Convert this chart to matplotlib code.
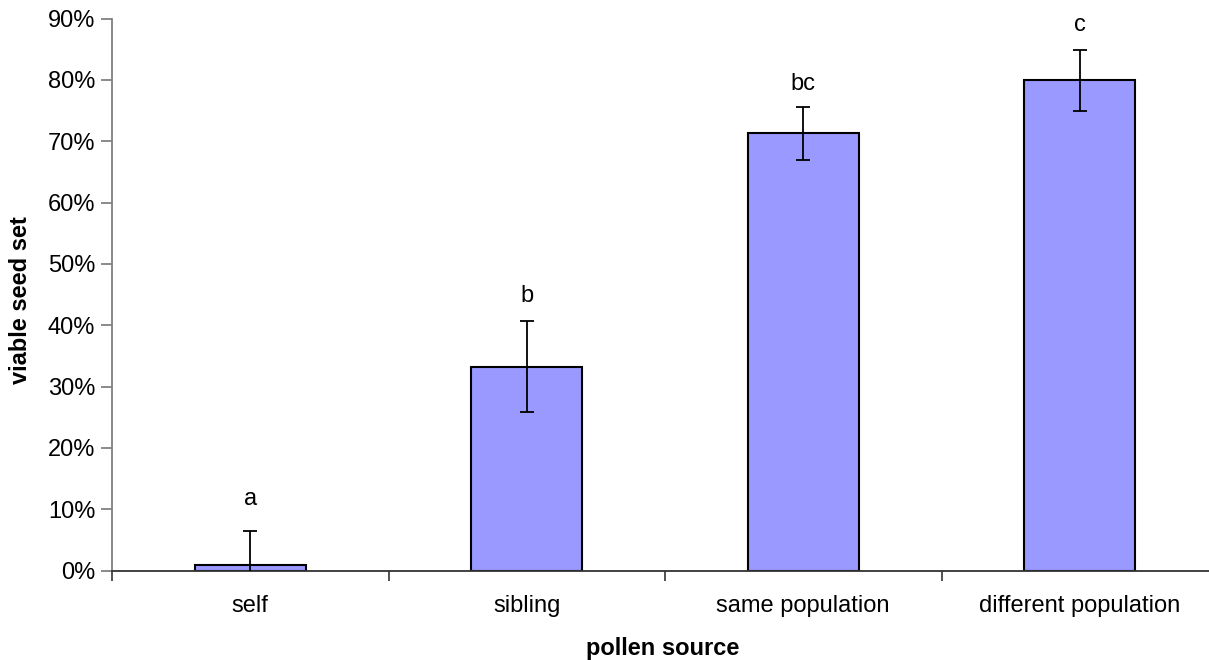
import matplotlib
matplotlib.use("Agg")
import matplotlib.pyplot as plt
from matplotlib.ticker import FuncFormatter, FixedLocator

plt.rcParams['font.family'] = ['Liberation Sans', 'DejaVu Sans']

categories = ["self", "sibling", "same population", "different population"]
values = [0.86, 33.2, 71.3, 79.9]
errors = [5.6, 7.4, 4.3, 5.0]
letters = ["a", "b", "bc", "c"]
letter_y = [11.7, 44.7, 79.4, 88.9]
yticks = [0, 10, 20, 30, 40, 50, 60, 70, 80, 90]

fig = plt.figure(figsize=(12.09, 6.60), dpi=100)
ax = fig.add_axes([112 / 1209, 89.5 / 660, (1218 - 112) / 1209, (570.5 - 18.5) / 660])

x = list(range(len(categories)))
ax.bar(x, values, width=0.4, color="#9999FF", edgecolor="black", linewidth=1.5, zorder=2)
ax.errorbar(x, values, yerr=errors, fmt="none", ecolor="black", elinewidth=1.3,
            capsize=5, capthick=1.3, zorder=3)
for xi, lt, ly in zip(x, letters, letter_y):
    ax.text(xi, ly, lt, ha="center", va="center", fontsize=17, color="black")

ax.set_xlim(-0.5, 3.5)
ax.set_ylim(0, 90)
ax.set_yticks(yticks)
ax.yaxis.set_major_formatter(FuncFormatter(lambda v, p: f"{v:.0f}%"))
ax.set_xticks(x)
ax.set_xticklabels(categories)
ax.xaxis.set_minor_locator(FixedLocator([-0.5, 0.5, 1.5, 2.5, 3.5]))
ax.tick_params(axis="x", which="major", length=0, labelsize=17, pad=17.5)
ax.tick_params(axis="x", which="minor", length=7, width=1.2, direction="out", color="#333333")
ax.tick_params(axis="y", length=8, width=1.2, direction="out", labelsize=17, color="#777777", pad=4)

for s in ["top", "right"]:
    ax.spines[s].set_visible(False)
ax.spines["left"].set_color("#808080")
ax.spines["left"].set_linewidth(1.3)
ax.spines["bottom"].set_color("#333333")
ax.spines["bottom"].set_linewidth(1.3)

fig.text(663 / 1209, 1 - 648 / 660, "pollen source", ha="center", va="center",
         fontsize=17, fontweight="bold")
fig.text(21 / 1209, 1 - 300 / 660, "viable seed set", ha="center", va="center",
         fontsize=17, fontweight="bold", rotation=90)

fig.savefig("out.png", dpi=100)
